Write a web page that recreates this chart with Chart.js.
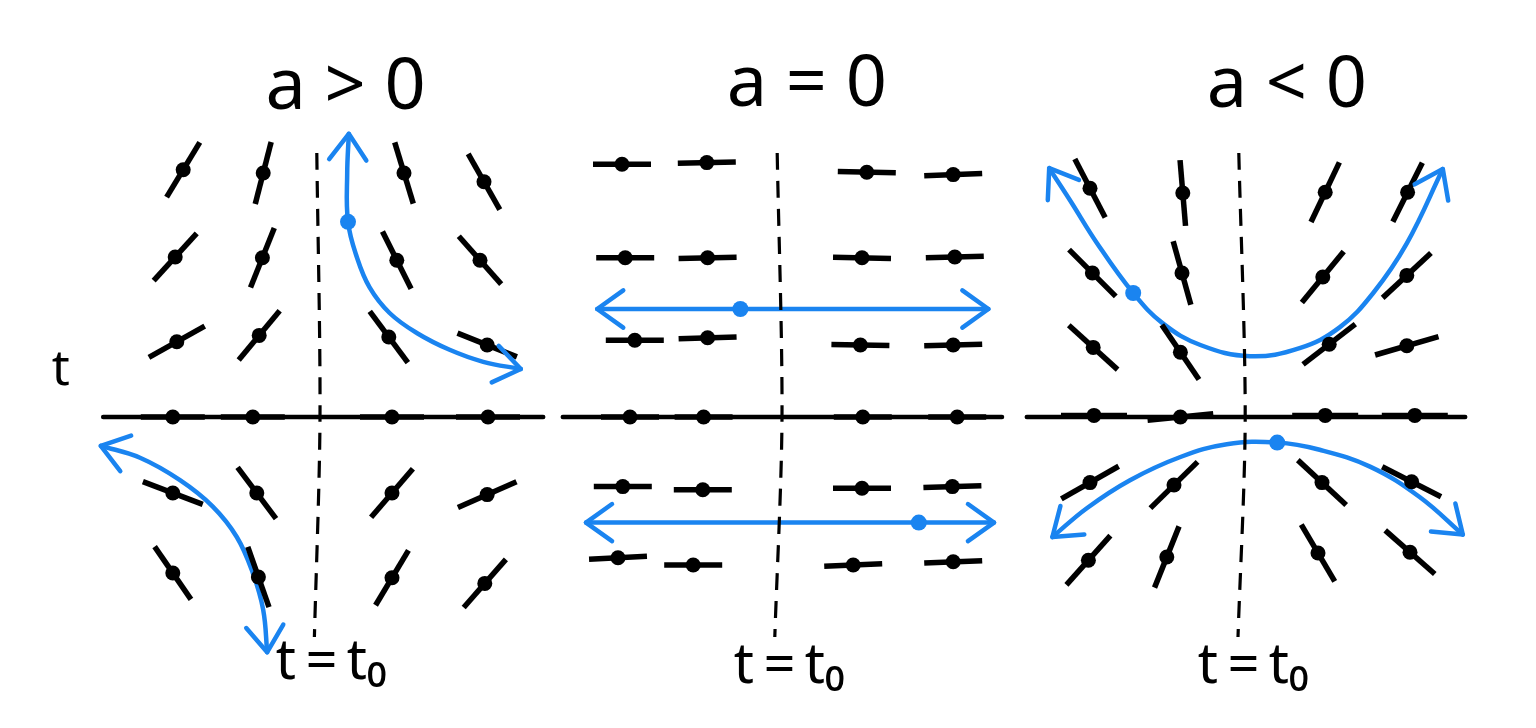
<!DOCTYPE html>
<html>
<head>
<meta charset="utf-8">
<script src="https://cdn.jsdelivr.net/npm/chart.js@4/dist/chart.umd.min.js"></script>
<style>
  html, body { margin: 0; padding: 0; background: #fff; }
  #wrap { position: relative; width: 1536px; height: 728px; overflow: hidden; }
  .panel { position: absolute; top: 0; height: 728px; }
</style>
</head>
<body>
<div id="wrap">
  <div class="panel" style="left:0;width:555px"><canvas id="panelPos"></canvas></div>
  <div class="panel" style="left:555px;width:460px"><canvas id="panelZero"></canvas></div>
  <div class="panel" style="left:1015px;width:521px"><canvas id="panelNeg"></canvas></div>
</div>
<script>
// ==================== DATA (x = t - t0, y = value) ====================

// a > 0
const posSegX     = [-1.71, -0.71, 1.05, 2.05,  -1.81, -0.72, 0.96, 2.00,  -1.79, -0.76, 0.86, 2.09,
                     -1.84, -0.84, 0.90, 2.10,  -1.84, -0.79, 0.90, 2.09,  -1.84, -0.77, 0.90, 2.06];
const posSegY     = [3.09, 3.05, 3.05, 2.94,  2.00, 1.99, 1.96, 1.96,  0.94, 1.02, 1.00, 0.90,
                     0, 0, 0, 0,  -0.95, -0.95, -0.95, -0.97,  -1.95, -2.00, -2.01, -2.08];
const posSlope    = [1.65, 3.9, -3.3, -1.76,  1.1, 2.5, -2.0, -1.13,  0.56, 1.2, -1.35, -0.4,
                     0, 0, 0, 0,  -0.38, -1.33, 1.16, 0.44,  -1.45, -2.85, 1.67, 1.14];
const posUpperX   = [0.36, 0.34, 0.35, 0.46, 0.62, 0.87, 1.21, 1.62, 2.04, 2.51];
const posUpperY   = [3.54, 3.05, 2.44, 2.00, 1.62, 1.30, 1.05, 0.84, 0.69, 0.60];
const posLowerX   = [-2.74, -2.25, -1.75, -1.34, -1.04, -0.84, -0.71, -0.66];
const posLowerY   = [-0.36, -0.51, -0.79, -1.12, -1.50, -1.95, -2.41, -2.94];
const posMarkX    = [0.35];
const posMarkY    = [2.44];

// a = 0
const zeroSegX    = [-1.95, -0.89, 1.11, 2.19,  -1.91, -0.88, 1.05, 2.21,  -1.79, -0.88, 1.03, 2.19,
                     -1.85, -0.93, 1.06, 2.24,  -1.94, -0.94, 1.05, 2.18,  -2.00, -1.06, 0.94, 2.19];
const zeroSegY    = [3.16, 3.18, 3.06, 3.03,  1.99, 1.99, 1.99, 2.00,  0.96, 0.99, 0.90, 0.90,
                     0, 0, 0, 0,  -0.87, -0.91, -0.89, -0.87,  -1.76, -1.85, -1.85, -1.81];
const zeroSlope   = [0, 0.02, -0.02, 0.04,  0, 0.02, -0.02, 0.03,  0, 0.03, -0.02, 0.03,
                     0, 0, 0, 0,  0, 0, 0, 0.03,  0.05, 0, 0.04, 0.04];
const zeroUpperX  = [-2.26, 2.63];
const zeroUpperY  = [1.35, 1.35];
const zeroLowerX  = [-2.40, 2.70];
const zeroLowerY  = [-1.32, -1.32];
const zeroMarkX   = [-0.47, 1.76];
const zeroMarkY   = [1.35, -1.32];

// a < 0
const negSegX     = [-1.90, -0.74, 1.04, 2.07,  -1.87, -0.75, 1.01, 2.06,  -1.86, -0.77, 1.09, 2.06,
                     -1.85, -0.77, 1.04, 2.16,  -1.90, -0.85, 1.00, 2.12,  -1.92, -0.94, 0.95, 2.10];
const negSegY     = [2.86, 2.80, 2.81, 2.81,  1.80, 1.80, 1.75, 1.77,  0.87, 0.81, 0.91, 0.89,
                     0.02, 0, 0.02, 0.02,  -0.82, -0.85, -0.82, -0.81,  -1.79, -1.75, -1.70, -1.69];
const negSlope    = [-1.93, -12, 2.1, 2.0,  -1.0, -3.6, 1.22, 0.93,  -0.91, -1.47, 0.77, 0.29,
                     0, 0.1, 0, 0,  0.57, 0.98, -0.93, -0.51,  1.12, 2.5, -1.7, -0.88];
const negUpperX   = [-2.41, -2.15, -1.81, -1.36, -0.99, -0.52, 0.10, 0.72, 1.22, 1.64, 2.06, 2.51];
const negUpperY   = [3.11, 2.71, 2.17, 1.55, 1.17, 0.90, 0.76, 0.86, 1.12, 1.55, 2.17, 3.10];
const negLowerX   = [-2.37, -1.94, -1.40, -0.77, -0.19, 0.44, 0.97, 1.60, 2.22, 2.76];
const negLowerY   = [-1.50, -1.14, -0.79, -0.50, -0.34, -0.32, -0.41, -0.62, -1.00, -1.47];
const negMarkX    = [-1.36, 0.44];
const negMarkY    = [1.55, -0.32];

// ==================== HELPERS ====================

const INK = '#000';
const BLUE = '#1a84f0';
const HAND = "'Noto Sans', 'DejaVu Sans', sans-serif";

function pts(xs, ys) {
    return xs.map((x, i) => ({ x: x, y: ys[i] }));
}

// slope dy/dx -> canvas rotation in degrees (canvas y runs down)
function rotations(slopes) {
    return slopes.map(s => -Math.atan(s) * 180 / Math.PI);
}

// chevrons at the ends of blue curves
const arrowPlugin = {
    id: 'arrowEnds',
    afterDatasetsDraw(chart) {
        const ctx = chart.ctx;
        chart.data.datasets.forEach((ds, i) => {
            if (!ds.arrows) return;
            const pe = chart.getDatasetMeta(i).data;
            if (pe.length < 2) return;
            const ends = [[pe[0], pe[1]], [pe[pe.length - 1], pe[pe.length - 2]]];
            ctx.save();
            ctx.strokeStyle = ds.borderColor;
            ctx.lineWidth = ds.borderWidth;
            ctx.lineCap = 'round';
            ctx.lineJoin = 'round';
            ends.forEach(([tip, prev]) => {
                const ang = Math.atan2(tip.y - prev.y, tip.x - prev.x);
                const len = 32, spread = 0.62;
                ctx.beginPath();
                ctx.moveTo(tip.x - len * Math.cos(ang - spread), tip.y - len * Math.sin(ang - spread));
                ctx.lineTo(tip.x, tip.y);
                ctx.lineTo(tip.x - len * Math.cos(ang + spread), tip.y - len * Math.sin(ang + spread));
                ctx.stroke();
            });
            ctx.restore();
        });
    }
};

// labels placed through the chart's own scales
const textPlugin = {
    id: 'sketchText',
    afterDraw(chart, args, opts) {
        const ctx = chart.ctx;
        const sx = chart.scales.x, sy = chart.scales.y;
        (opts.items || []).forEach(it => {
            ctx.save();
            ctx.fillStyle = INK;
            ctx.font = '400 ' + it.size + 'px ' + HAND;
            ctx.textAlign = 'center';
            ctx.textBaseline = 'middle';
            ctx.fillText(it.text, sx.getPixelForValue(it.x), sy.getPixelForValue(it.y));
            ctx.restore();
        });
    }
};

function buildPanel(id, cfg) {
    const ctx = document.getElementById(id);
    if (!ctx) return;

    new Chart(ctx, {
        type: 'scatter',
        data: {
            // first dataset is painted last (on top)
            datasets: [
                {
                    data: pts(cfg.segX, cfg.segY),
                    pointStyle: 'circle',
                    pointRadius: 7.5,
                    pointBackgroundColor: INK,
                    pointBorderWidth: 0
                },
                {
                    data: pts(cfg.segX, cfg.segY),
                    pointStyle: 'line',
                    pointRadius: cfg.segLen,
                    pointRotation: rotations(cfg.slopes),
                    pointBorderColor: INK,
                    pointBorderWidth: 5.5
                },
                {
                    data: pts(cfg.dashX, [3.3, 0, -2.75]),
                    showLine: true,
                    borderColor: INK,
                    borderWidth: 3.2,
                    borderDash: [17, 11],
                    pointRadius: 0,
                    tension: 0.3
                },
                {
                    data: pts(cfg.axisX, [0, 0]),
                    showLine: true,
                    borderColor: INK,
                    borderWidth: 4.5,
                    borderCapStyle: 'round',
                    pointRadius: 0
                },
                {
                    data: pts(cfg.markX, cfg.markY),
                    pointRadius: 8,
                    pointBackgroundColor: BLUE,
                    pointBorderWidth: 0
                }
            ].concat(cfg.curves.map(c => ({
                data: pts(c[0], c[1]),
                showLine: true,
                arrows: true,
                borderColor: BLUE,
                borderWidth: 4.5,
                borderCapStyle: 'round',
                pointRadius: 0,
                tension: 0.4
            }))).map(ds => Object.assign({ clip: false }, ds))
        },
        options: {
            responsive: true,
            maintainAspectRatio: false,
            animation: false,
            events: [],
            layout: { padding: 0, autoPadding: false },
            plugins: {
                legend: { display: false },
                tooltip: { enabled: false },
                sketchText: { items: cfg.texts }
            },
            scales: {
                x: { type: 'linear', display: false, min: cfg.xMin, max: cfg.xMax },
                y: { type: 'linear', display: false, min: -3.8875, max: 5.2125 }
            }
        },
        plugins: [arrowPlugin, textPlugin]
    });
}

document.addEventListener('DOMContentLoaded', function() {
    buildPanel('panelPos', {
        xMin: -4.0, xMax: 2.9375,
        segX: posSegX, segY: posSegY, slopes: posSlope, segLen: 32,
        dashX: [-0.04, 0, -0.07], axisX: [-2.71, 2.79],
        curves: [[posUpperX, posUpperY], [posLowerX, posLowerY]],
        markX: posMarkX, markY: posMarkY,
        texts: [
            { text: 'a > 0', x: 0.32, y: 4.11, size: 72 },
            { text: 't\u2009=\u2009t\u2080', x: 0.14, y: -3.07, size: 56 },
            { text: 't', x: -3.24, y: 0.58, size: 50 }
        ]
    });
    buildPanel('panelZero', {
        xMin: -2.7875, xMax: 2.9625,
        segX: zeroSegX, segY: zeroSegY, slopes: zeroSlope, segLen: 29,
        dashX: [-0.01, 0.05, -0.04], axisX: [-2.69, 2.80],
        curves: [[zeroUpperX, zeroUpperY], [zeroLowerX, zeroLowerY]],
        markX: zeroMarkX, markY: zeroMarkY,
        texts: [
            { text: 'a = 0', x: 0.36, y: 4.15, size: 72 },
            { text: 't\u2009=\u2009t\u2080', x: 0.14, y: -3.12, size: 56 }
        ]
    });
    buildPanel('panelNeg', {
        xMin: -2.8375, xMax: 3.675,
        segX: negSegX, segY: negSegY, slopes: negSlope, segLen: 33,
        dashX: [-0.04, 0.04, -0.05], axisX: [-2.69, 2.79],
        curves: [[negUpperX, negUpperY], [negLowerX, negLowerY]],
        markX: negMarkX, markY: negMarkY,
        texts: [
            { text: 'a < 0', x: 0.56, y: 4.13, size: 72 },
            { text: 't\u2009=\u2009t\u2080', x: 0.14, y: -3.12, size: 56 }
        ]
    });
});
</script>
</body>
</html>
